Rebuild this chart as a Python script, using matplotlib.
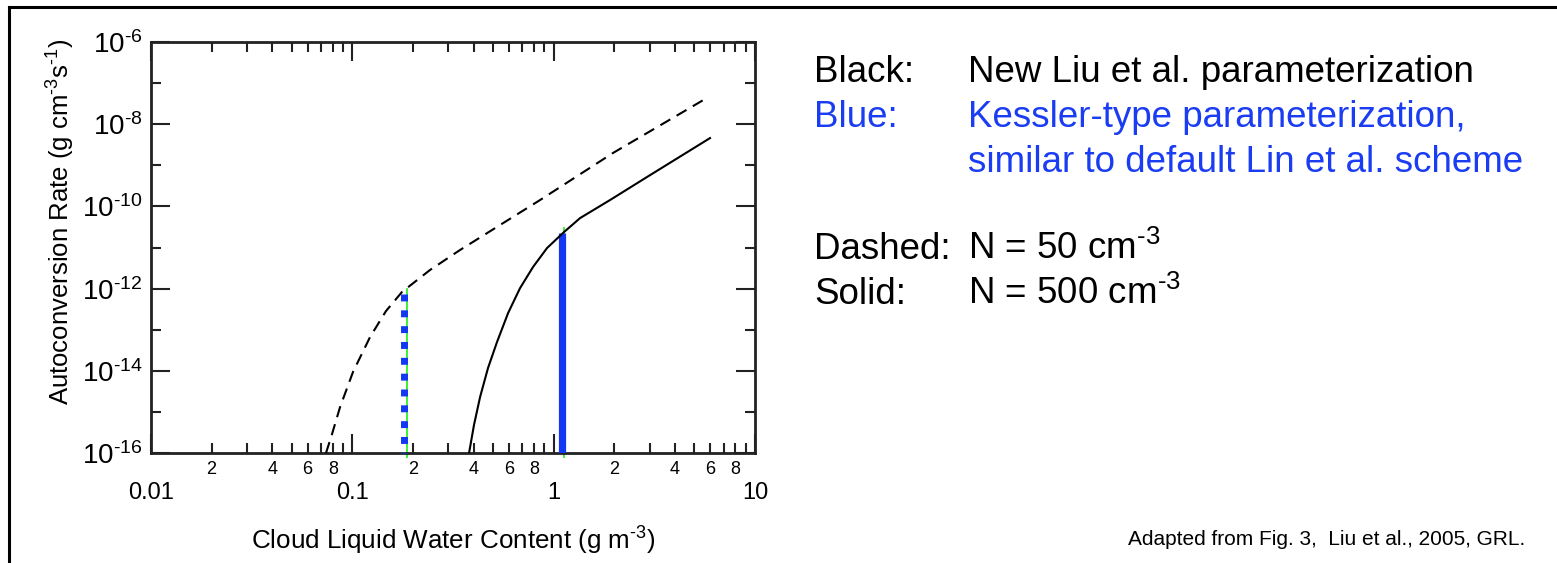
import matplotlib
matplotlib.use("Agg")
import matplotlib.pyplot as plt
from matplotlib.lines import Line2D
from matplotlib.ticker import FixedLocator, FixedFormatter

plt.rcParams["font.family"] = ["Liberation Sans", "DejaVu Sans"]
plt.rcParams["mathtext.fontset"] = "custom"
plt.rcParams["mathtext.rm"] = "Liberation Sans"
plt.rcParams["mathtext.it"] = "Liberation Sans:italic"
plt.rcParams["mathtext.bf"] = "Liberation Sans:bold"

# New Liu et al. parameterization, N = 50 cm^-3 (dashed)
liu_n50_lwc = [0.0740, 0.0793, 0.0869, 0.1008, 0.1224, 0.1470, 0.1765, 0.2432, 0.3428,
               0.856, 1.973, 5.65]
liu_n50_rate = [1.0e-16, 2.9e-16, 1.31e-15, 9.4e-15, 6.6e-14, 2.85e-13, 8.3e-13, 2.84e-12,
                8.7e-12, 1.43e-10, 2.0e-9, 4.1e-8]

# New Liu et al. parameterization, N = 500 cm^-3 (solid)
liu_n500_lwc = [0.380, 0.402, 0.431, 0.472, 0.523, 0.594, 0.681, 0.790, 0.927, 1.126,
                1.353, 1.906, 2.91, 5.98]
liu_n500_rate = [1.0e-16, 4.8e-16, 2.3e-15, 1.17e-14, 5.0e-14, 2.55e-13, 1.03e-12, 3.36e-12,
                 9.7e-12, 2.38e-11, 5.2e-11, 1.43e-10, 5.2e-10, 4.6e-9]

# Kessler-type jumps and the matching Liu thresholds
kessler_n50_lwc = 0.1807
kessler_n50_top = 7.5e-13
kessler_n500_lwc = 1.095
kessler_n500_top = 2.2e-11
liu_n50_threshold_lwc = 0.186
liu_n50_threshold_top = 1.0e-12
liu_n500_threshold_lwc = 1.126
liu_n500_threshold_top = 3.0e-11
rate_floor = 1.0e-16
green_floor = 8.0e-17

x_major = [0.01, 0.1, 1, 10]
x_major_labels = ["0.01", "0.1", "1", "10"]
x_minor_mult = [2, 3, 4, 5, 6, 7, 8, 9]
x_minor_labelled = [2, 4, 6, 8]
y_major_exp = [-16, -14, -12, -10, -8, -6]
y_minor_exp = [-15, -13, -11, -9, -7]

W, H = 1557, 563
fig = plt.figure(figsize=(W / 100, H / 100), dpi=100)
ax = fig.add_axes([151 / W, 1 - 453 / H, (755 - 151) / W, (453 - 42) / H])

blue = "#1238f4"
green = "#33ee22"

# green Liu threshold markers behind the blue Kessler jumps
ax.plot([liu_n50_threshold_lwc, liu_n50_threshold_lwc], [green_floor, liu_n50_threshold_top],
        color=green, lw=1.3, clip_on=False, zorder=2)
ax.plot([liu_n500_threshold_lwc, liu_n500_threshold_lwc], [green_floor, liu_n500_threshold_top],
        color=green, lw=1.3, clip_on=False, zorder=2)

# Kessler-type jumps
ax.plot([kessler_n50_lwc, kessler_n50_lwc], [kessler_n50_top, rate_floor],
        color=blue, lw=5, linestyle=(0, (1.0, 1.28)), dash_capstyle="butt",
        clip_on=False, zorder=3)
ax.plot([kessler_n500_lwc, kessler_n500_lwc], [rate_floor, kessler_n500_top],
        color=blue, lw=5.2, solid_capstyle="butt", zorder=3)

# Liu curves
ax.plot(liu_n50_lwc, liu_n50_rate, color="black", lw=1.5, linestyle=(0, (5.5, 3.5)), zorder=4)
ax.plot(liu_n500_lwc, liu_n500_rate, color="black", lw=1.5, zorder=4)

ax.set_xscale("log")
ax.set_yscale("log")
ax.set_xlim(0.01, 10)
ax.set_ylim(1e-16, 1e-6)

x_minor = [m * d for d in (0.01, 0.1, 1) for m in x_minor_mult]
x_minor_text = [str(m) if m in x_minor_labelled else "" for d in (0.01, 0.1, 1) for m in x_minor_mult]
ax.xaxis.set_major_locator(FixedLocator(x_major))
ax.xaxis.set_major_formatter(FixedFormatter(x_major_labels))
ax.xaxis.set_minor_locator(FixedLocator(x_minor))
ax.xaxis.set_minor_formatter(FixedFormatter(x_minor_text))

ax.yaxis.set_major_locator(FixedLocator([10.0 ** e for e in y_major_exp]))
ax.yaxis.set_major_formatter(FixedFormatter([r"$\mathregular{10^{\text{%d}}}$" % e for e in y_major_exp]))
ax.yaxis.set_minor_locator(FixedLocator([10.0 ** e for e in y_minor_exp]))
ax.yaxis.set_minor_formatter(FixedFormatter([""] * len(y_minor_exp)))

ax.tick_params(which="both", direction="in", top=True, right=True, width=1.5, color="#222222")
ax.tick_params(which="major", length=14)
ax.tick_params(which="minor", length=7)
ax.tick_params(axis="x", which="major", pad=21, labelsize=17)
ax.tick_params(axis="x", which="minor", pad=6, labelsize=13)
ax.tick_params(axis="y", which="major", pad=6, labelsize=20)
for s in ax.spines.values():
    s.set_linewidth(2.0)
    s.set_color("#222222")

ax.set_xlabel(r"Cloud Liquid Water Content (g m$^{\text{-3}}$)", fontsize=18.7, labelpad=15)
ax.set_ylabel(r"Autoconversion Rate (g cm$^{\text{-3}}$s$^{\text{-1}}$)", fontsize=18.5)
ax.yaxis.set_label_coords(-0.123, 0.562)

# slide frame lines
fig.add_artist(Line2D([9 / W, 1.0], [1 - 7 / H, 1 - 7 / H], color="black", lw=2.2))
fig.add_artist(Line2D([9 / W, 9 / W], [0.0, 1 - 7 / H], color="black", lw=2.2))

# description text
text_blue = "#1a3cf2"
fs = 26.5
def put(x, y, s, color="black"):
    fig.text(x / W, 1 - y / H, s, fontsize=fs, color=color, ha="left", va="baseline")

put(814, 82, "Black:")
put(968, 82, "New Liu et al. parameterization")
put(814, 127, "Blue:", text_blue)
put(968, 127, "Kessler-type parameterization,", text_blue)
put(968, 172, "similar to default Lin et al. scheme", text_blue)
put(814, 259, "Dashed:")
put(968, 259, r"N = 50 cm$^{\text{-3}}$")
put(814, 303.5, "Solid:")
put(968, 303.5, r"N = 500 cm$^{\text{-3}}$")

fig.text(1128 / W, 1 - 545 / H, "Adapted from Fig. 3,  Liu et al., 2005, GRL.", fontsize=15,
         ha="left", va="baseline")

fig.savefig("out.png", dpi=100)
